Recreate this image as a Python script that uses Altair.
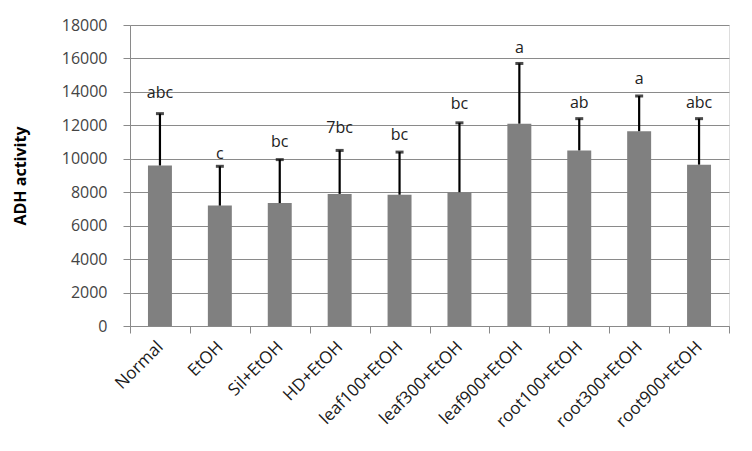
import altair as alt
import pandas as pd

categories = ["Normal", "EtOH", "Sil+EtOH", "HD+EtOH", "leaf100+EtOH", "leaf300+EtOH",
              "leaf900+EtOH", "root100+EtOH", "root300+EtOH", "root900+EtOH"]
means = [9600, 7200, 7350, 7900, 7850, 8000, 12100, 10500, 11650, 9650]
err_top = [12700, 9550, 9950, 10500, 10400, 12150, 15700, 12400, 13750, 12400]
letters = ["abc", "c", "bc", "7bc", "bc", "bc", "a", "ab", "a", "abc"]
letter_y = [13950, 10300, 11000, 11850, 11420, 13280, 16640, 13340, 14770, 13340]
y_ticks = [0, 2000, 4000, 6000, 8000, 10000, 12000, 14000, 16000, 18000]

df = pd.DataFrame({"cat": categories, "mean": means, "top": err_top,
                   "letter": letters, "ly": letter_y})

FONT = "Open Sans"
GRAY = "#8a8a8a"

x_axis = alt.Axis(labelAngle=-45, labelAlign="right", labelBaseline="middle",
                  labelFontSize=17, labelColor="#1a1a1a", labelFont=FONT,
                  labelPadding=11, tickBand="extent", tickSize=7,
                  tickColor=GRAY, domainColor=GRAY, grid=False)
x_scale = alt.Scale(paddingInner=0, paddingOuter=0)

y_axis = alt.Axis(values=y_ticks, format="d", labelFontSize=16,
                  labelColor="#444444", labelFont=FONT, labelPadding=16,
                  tickSize=7, tickColor=GRAY, domainColor=GRAY,
                  gridColor=GRAY, gridWidth=1, titleFont=FONT,
                  titleFontSize=16, titleFontWeight="bold", titleColor="#000000",
                  titlePadding=33)
y_scale = alt.Scale(domain=[0, 18000], nice=False)


def X():
    return alt.X("cat:N", sort=categories, title=None, scale=x_scale, axis=x_axis)


def Y(field):
    return alt.Y(field, title="ADH activity", scale=y_scale, axis=y_axis)


base = alt.Chart(df)

bars = base.mark_bar(color="#808080", width=alt.RelativeBandSize(0.4)).encode(
    x=X(), y=Y("mean:Q"))

err = base.mark_rule(color="#000000", strokeWidth=2.2).encode(
    x=X(), y=Y("mean:Q"), y2="top:Q")

cap = base.mark_tick(color="#000000", thickness=3, size=8, orient="horizontal").encode(
    x=X(), y=Y("top:Q"))

txt = base.mark_text(font=FONT, fontSize=16, color="#222222", baseline="middle").encode(
    x=X(), y=Y("ly:Q"), text="letter:N")

chart = alt.layer(bars, err, cap, txt).properties(
    width=599, height=301,
    autosize=alt.AutoSizeParams(type="none"),
    padding={"left": 130, "top": 25, "right": 23, "bottom": 125},
).configure_view(stroke=None).configure(background="#ffffff")

chart.save("out.html", embed_options={"renderer": "svg", "actions": False})
